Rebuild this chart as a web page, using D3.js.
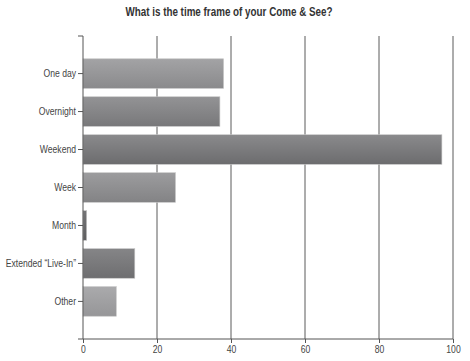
<!DOCTYPE html>
<html>
<head>
<meta charset="utf-8">
<script src="https://cdn.jsdelivr.net/npm/d3@7"></script>
<style>
  body { margin: 0; background: #fff; }
  text { font-family: "Liberation Sans", Arial, sans-serif; }
</style>
</head>
<body>
<div id="chart"></div>
<script>
// data
const categories = ["One day", "Overnight", "Weekend", "Week", "Month", "Extended \u201cLive-In\u201d", "Other"];
const values = [38, 37, 97, 25, 1, 14, 9];
const xTicks = [0, 20, 40, 60, 80, 100];
const title = "What is the time frame of your Come & See?";

// per-bar grey tones (top, bottom)
const tones = [
  ["#a3a3a5", "#8a8a8c"],
  ["#939395", "#78787a"],
  ["#8a8a8c", "#6c6c6e"],
  ["#9c9c9e", "#838385"],
  ["#747476", "#5e5e60"],
  ["#858587", "#6e6e70"],
  ["#aaaaac", "#969698"]
];

const width = 470, height = 361;
const margin = { top: 36, right: 17, bottom: 22, left: 83 };
// the original uses a condensed face, squeeze the text horizontally
const squeeze = 0.82;

const svg = d3.select("#chart").append("svg")
  .attr("width", width)
  .attr("height", height);

const defs = svg.append("defs");
tones.forEach((t, i) => {
  const g = defs.append("linearGradient")
    .attr("id", "grad" + i)
    .attr("x1", 0).attr("y1", 0).attr("x2", 0).attr("y2", 1);
  g.append("stop").attr("offset", "0%").attr("stop-color", t[0]);
  g.append("stop").attr("offset", "100%").attr("stop-color", t[1]);
});

const x = d3.scaleLinear()
  .domain([0, 100])
  .range([margin.left, width - margin.right]);

const y = d3.scaleBand()
  .domain(categories)
  .range([margin.top, height - margin.bottom])
  .paddingInner(0.22)
  .paddingOuter(0.6);

// title
svg.append("g")
  .attr("transform", `translate(229,16) scale(${squeeze},1)`)
  .append("text")
  .attr("text-anchor", "middle")
  .attr("font-size", 12)
  .attr("font-weight", "bold")
  .attr("fill", "#333")
  .text(title);

// vertical grid lines
svg.append("g")
  .selectAll("line")
  .data(xTicks.slice(1))
  .join("line")
  .attr("x1", d => x(d))
  .attr("x2", d => x(d))
  .attr("y1", margin.top)
  .attr("y2", height - margin.bottom)
  .attr("stroke", "#5a5a5a")
  .attr("stroke-width", 1);

// bars
svg.append("g")
  .selectAll("rect")
  .data(values)
  .join("rect")
  .attr("x", x(0))
  .attr("y", (d, i) => y(categories[i]))
  .attr("width", d => x(d) - x(0))
  .attr("height", y.bandwidth())
  .attr("fill", (d, i) => `url(#grad${i})`)
  .attr("stroke", "#c8c8c8")
  .attr("stroke-width", 0.6);

// y axis
const yAxis = svg.append("g")
  .attr("transform", `translate(${x(0)},0)`)
  .call(d3.axisLeft(y).tickSize(5).tickSizeOuter(0).tickPadding(2));
yAxis.select(".domain")
  .attr("d", `M-5,${margin.top}H0V${height - margin.bottom}`)
  .attr("stroke", "#555");
yAxis.selectAll(".tick line").attr("stroke", "#555");
yAxis.selectAll(".tick text")
  .attr("font-size", 10.5)
  .attr("fill", "#444")
  .attr("x", -7 / squeeze)
  .attr("transform", `scale(${squeeze},1)`);

// x axis
const xAxis = svg.append("g")
  .attr("transform", `translate(0,${height - margin.bottom})`)
  .call(d3.axisBottom(x).tickValues(xTicks).tickSize(4).tickSizeOuter(0).tickPadding(3));
xAxis.select(".domain")
  .attr("d", `M${x(0) - 5},0H${x(100)}`)
  .attr("stroke", "#555");
xAxis.selectAll(".tick line").attr("stroke", "#555");
xAxis.selectAll(".tick text")
  .attr("font-size", 10.5)
  .attr("fill", "#444")
  .attr("transform", `scale(${squeeze},1)`);
</script>
</body>
</html>
